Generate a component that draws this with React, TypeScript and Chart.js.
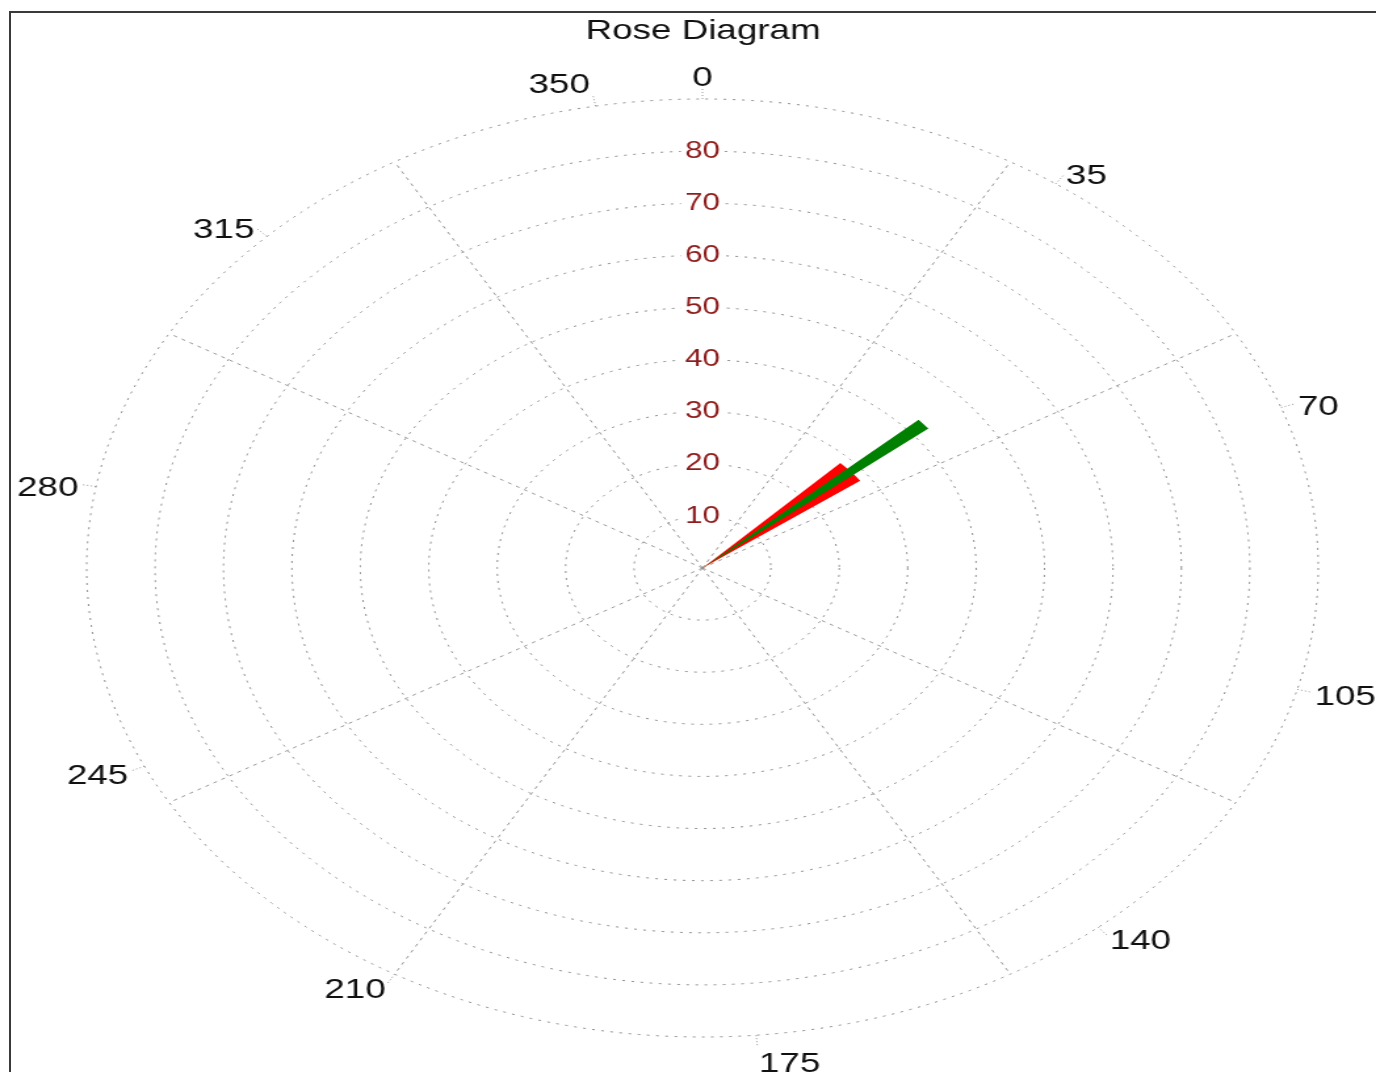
import React, { useEffect, useRef } from "react";
import { Chart, registerables } from "chart.js";

Chart.register(...registerables);

// ---- data ----
const TITLE = "Rose Diagram";
const SECTOR_NAMES = ["Red sector", "Green sector"];
const SECTOR_FROM = [45, 48]; // degrees, clockwise from north
const SECTOR_TO = [54, 51];
const SECTOR_VALUE = [28.5, 42.5];
const SECTOR_COLORS = ["#ff0000", "#008000"];
const SECTOR_ORDER = [1, 0]; // green drawn on top of red

const RING_MAX = 90;
const RING_STEP = 10;
const ANGLE_LABELS = [0, 35, 70, 105, 140, 175, 210, 245, 280, 315, 350];
const SPOKE_ANGLES = [30, 60, 120, 150, 210, 240, 300, 330];

// ---- layout ----
const PAGE_W = 1376;
const PAGE_H = 1072;
const INNER_W = 1048;
const STRETCH = PAGE_W / INNER_W;
const FONT = '"Liberation Sans", Arial, Helvetica, sans-serif';
const GRID_COLOR = "rgba(120,120,120,0.85)";
const SPOKE_COLOR = "rgba(140,140,140,0.9)";
const TICK_COLOR = "#8e1c1c";

const roseDecor = {
  id: "roseDecor",
  beforeDatasetsDraw(chart: any) {
    const r = chart.scales.r;
    const ctx = chart.ctx;
    const R = r.getDistanceFromCenterForValue(RING_MAX);
    ctx.save();
    ctx.strokeStyle = SPOKE_COLOR;
    ctx.lineWidth = 1;
    ctx.setLineDash([3, 4]);
    for (const a of SPOKE_ANGLES) {
      const t = (a * Math.PI) / 180 - Math.PI / 2;
      ctx.beginPath();
      ctx.moveTo(r.xCenter, r.yCenter);
      ctx.lineTo(r.xCenter + Math.cos(t) * R, r.yCenter + Math.sin(t) * R);
      ctx.stroke();
    }
    ctx.restore();
  },
  afterDraw(chart: any) {
    const r = chart.scales.r;
    const ctx = chart.ctx;
    const R = r.getDistanceFromCenterForValue(RING_MAX);
    ctx.save();
    ctx.font = `28px ${FONT}`;
    ctx.fillStyle = "#111";
    ctx.textBaseline = "middle";
    for (const a of ANGLE_LABELS) {
      const t = (a * Math.PI) / 180 - Math.PI / 2;
      // leader
      ctx.save();
      ctx.strokeStyle = SPOKE_COLOR;
      ctx.setLineDash([1, 2]);
      ctx.beginPath();
      ctx.moveTo(r.xCenter + Math.cos(t) * R, r.yCenter + Math.sin(t) * R);
      ctx.lineTo(r.xCenter + Math.cos(t) * R * 1.022, r.yCenter + Math.sin(t) * R * 1.022);
      ctx.stroke();
      ctx.restore();
      const nearVertical = Math.abs(Math.cos((a * Math.PI) / 180)) > 0.95;
      const d = R * (nearVertical ? 1.053 : 1.029);
      const m = ((a % 360) + 360) % 360;
      ctx.textAlign = m === 0 || m === 180 ? "center" : m < 180 ? "left" : "right";
      ctx.fillText(String(a), r.xCenter + Math.cos(t) * d, r.yCenter + Math.sin(t) * d + 4);
    }
    ctx.restore();
  },
};

export default function App() {
  const ref = useRef<HTMLCanvasElement>(null);

  useEffect(() => {
    if (!ref.current) return;
    const datasets = SECTOR_NAMES.map((name, i) => {
      const angles = [SECTOR_FROM[i], SECTOR_TO[i] - SECTOR_FROM[i], 360 - SECTOR_TO[i]];
      return {
        label: name,
        data: [0, SECTOR_VALUE[i], 0],
        angle: (c: any) => angles[c.dataIndex],
        backgroundColor: SECTOR_COLORS[i],
        borderWidth: 0,
        order: SECTOR_ORDER[i],
      };
    });
    const chart = new Chart(ref.current, {
      type: "polarArea",
      data: { labels: ["", "", ""], datasets },
      options: {
        responsive: false,
        animation: false,
        events: [],
        layout: { padding: { left: 40, right: 17, top: 0, bottom: 20.5 } },
        plugins: {
          legend: { display: false },
          tooltip: { enabled: false },
          title: {
            display: true,
            text: TITLE,
            color: "#111",
            font: { size: 28, weight: "normal", family: FONT },
            padding: { top: 14, bottom: 37 },
          },
        },
        scales: {
          r: {
            min: 0,
            max: RING_MAX,
            startAngle: 0,
            ticks: {
              stepSize: RING_STEP,
              color: TICK_COLOR,
              font: { size: 24, family: FONT },
              backdropColor: "#ffffff",
              backdropPadding: { x: 3, y: 2 },
              showLabelBackdrop: (c: any) => c.tick && c.tick.value < RING_MAX,
              callback: (v: any) => (v >= RING_MAX ? "" : String(v)),
              z: 0,
            },
            grid: { color: GRID_COLOR, lineWidth: 1, circular: true },
            border: { dash: [2, 5] },
            angleLines: { display: false },
            pointLabels: { display: false },
          },
        },
      },
      plugins: [roseDecor],
    } as any);
    return () => chart.destroy();
  }, []);

  return (
    <div style={{ position: "fixed", left: 0, top: 0, width: PAGE_W, height: PAGE_H, overflow: "hidden", background: "#fff" }}>
      <div
        style={{
          position: "absolute",
          left: 9,
          top: 11,
          width: PAGE_W,
          height: PAGE_H,
          borderLeft: "2px solid #3a3a3a",
          borderTop: "2px solid #3a3a3a",
        }}
      />
      <div style={{ position: "absolute", left: 0, top: 0, transform: `scaleX(${STRETCH})`, transformOrigin: "0 0" }}>
        <canvas ref={ref} width={INNER_W} height={PAGE_H} />
      </div>
    </div>
  );
}
